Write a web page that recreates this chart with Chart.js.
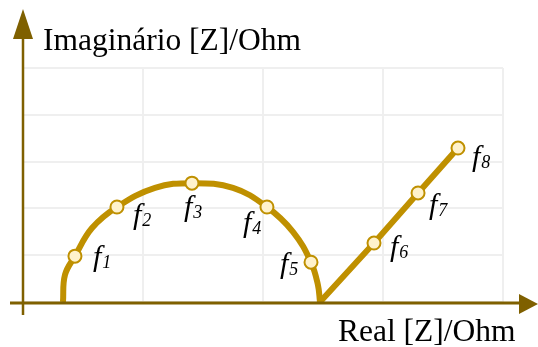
<!DOCTYPE html>
<html>
<head>
<meta charset="utf-8">
<script src="https://cdn.jsdelivr.net/npm/chart.js@4"></script>
<style>
    html, body { margin: 0; padding: 0; background: #fff; }
    #wrap { width: 538px; height: 347px; }
</style>
</head>
<body>
<div id="wrap"><canvas id="nyquist" width="538" height="347"></canvas></div>
<script>
const arcRe   = [0.333, 0.35, 0.433, 0.575, 0.783, 1.10, 1.408, 1.75, 2.033, 2.25, 2.40, 2.458, 2.475];
const arcIm   = [0,     0.58, 0.98,  1.58,  2.03,  2.44, 2.54,  2.44, 2.03,  1.50, 0.85, 0.36,  0];
const arcFreq = [null,  null, '1',   null,  '2',   null, '3',   null, '4',   null, '5',  null,  null];

// Diffusion tail (Warburg line)
const tailRe   = [2.475, 2.925, 3.292, 3.625];
const tailIm   = [0,     1.26,  2.33,  3.29];
const tailFreq = [null,  '6',   '7',   '8'];

const reTicks = [0, 1, 2, 3, 4];
const imTicks = [0, 1, 2, 3, 4, 5];

const axisTitleX = 'Real [Z]/Ohm';
const axisTitleY = 'Imaginário [Z]/Ohm';

const GOLD = '#BF9000';
const CREAM = '#FFF2CC';
const AXIS = '#7F6000';

const toPoints = (xs, ys) => xs.map((x, i) => ({ x: x, y: ys[i] }));

// label placement relative to each marker (left edge of "f", baseline)
const labelOffsets = {
    '1': [14, 10], '2': [12, 17], '3': [-12, 33], '4': [-28, 25],
    '5': [-35, 11], '6': [12, 13], '7': [7, 21], '8': [10, 18]
};

const arrowAxes = {
    id: 'arrowAxes',
    afterDraw(chart) {
        const ctx = chart.ctx;
        const x0 = chart.scales.x.getPixelForValue(0);
        const y0 = chart.scales.y.getPixelForValue(0);
        ctx.save();
        ctx.strokeStyle = AXIS;
        ctx.fillStyle = AXIS;

        // vertical axis
        ctx.lineWidth = 2.5;
        ctx.beginPath();
        ctx.moveTo(x0, 315);
        ctx.lineTo(x0, 30);
        ctx.stroke();
        ctx.beginPath();
        ctx.moveTo(x0, 9);
        ctx.lineTo(x0 + 10, 39);
        ctx.lineTo(x0 - 10, 39);
        ctx.closePath();
        ctx.fill();

        // horizontal axis
        ctx.lineWidth = 3;
        ctx.beginPath();
        ctx.moveTo(10, y0 + 1);
        ctx.lineTo(525, y0 + 1);
        ctx.stroke();
        ctx.beginPath();
        ctx.moveTo(538, y0 + 2);
        ctx.lineTo(519, y0 - 8);
        ctx.lineTo(519, y0 + 12);
        ctx.closePath();
        ctx.fill();

        ctx.fillStyle = '#000';
        ctx.font = '31.5px "Liberation Serif", "Times New Roman", serif';
        ctx.textBaseline = 'alphabetic';
        ctx.fillText(axisTitleY, 43, 50);
        ctx.fillText(axisTitleX, 338, 341);
        ctx.restore();
    }
};

const freqLabels = {
    id: 'freqLabels',
    afterDatasetsDraw(chart) {
        const ctx = chart.ctx;
        const sx = chart.scales.x;
        const sy = chart.scales.y;
        const all = [
            [arcRe, arcIm, arcFreq],
            [tailRe, tailIm, tailFreq]
        ];
        ctx.save();
        ctx.fillStyle = '#000';
        ctx.textBaseline = 'alphabetic';
        all.forEach(([xs, ys, names]) => {
            names.forEach((n, i) => {
                if (!n) return;
                const off = labelOffsets[n];
                const px = sx.getPixelForValue(xs[i]) + off[0] + 4;
                const py = sy.getPixelForValue(ys[i]) + off[1];
                ctx.font = 'italic 30px "Liberation Serif", "Times New Roman", serif';
                ctx.fillText('f', px, py);
                const w = ctx.measureText('f').width;
                ctx.font = 'italic 18px "Liberation Serif", "Times New Roman", serif';
                ctx.fillText(n, px + w + 1, py + 2);
            });
        });
        ctx.restore();
    }
};

const markerRadius = names => c => (names[c.dataIndex] ? 6.5 : 0);

new Chart(document.getElementById('nyquist'), {
    type: 'scatter',
    data: {
        datasets: [
            {
                data: toPoints(arcRe, arcIm),
                showLine: true,
                tension: 0.4,
                borderColor: GOLD,
                borderWidth: 6,
                pointRadius: markerRadius(arcFreq),
                pointBackgroundColor: CREAM,
                pointBorderColor: GOLD,
                pointBorderWidth: 2
            },
            {
                data: toPoints(tailRe, tailIm),
                showLine: true,
                tension: 0,
                borderColor: GOLD,
                borderWidth: 6,
                borderCapStyle: 'round',
                pointRadius: markerRadius(tailFreq),
                pointBackgroundColor: CREAM,
                pointBorderColor: GOLD,
                pointBorderWidth: 2
            }
        ]
    },
    options: {
        responsive: false,
        animation: false,
        layout: { padding: { left: 23, right: 35, top: 68, bottom: 45 } },
        plugins: {
            legend: { display: false },
            tooltip: { enabled: false }
        },
        scales: {
            x: {
                type: 'linear',
                min: reTicks[0],
                max: reTicks[reTicks.length - 1],
                afterBuildTicks: s => { s.ticks = reTicks.map(v => ({ value: v })); },
                afterFit: s => { s.height = 0; },
                ticks: { display: false },
                border: { display: false },
                grid: { color: '#EFEFEF', lineWidth: 2, drawTicks: false }
            },
            y: {
                type: 'linear',
                min: imTicks[0],
                max: imTicks[imTicks.length - 1],
                afterBuildTicks: s => { s.ticks = imTicks.map(v => ({ value: v })); },
                afterFit: s => { s.width = 0; },
                ticks: { display: false },
                border: { display: false },
                grid: { color: '#EFEFEF', lineWidth: 2, drawTicks: false }
            }
        }
    },
    plugins: [arrowAxes, freqLabels]
});
</script>
</body>
</html>
